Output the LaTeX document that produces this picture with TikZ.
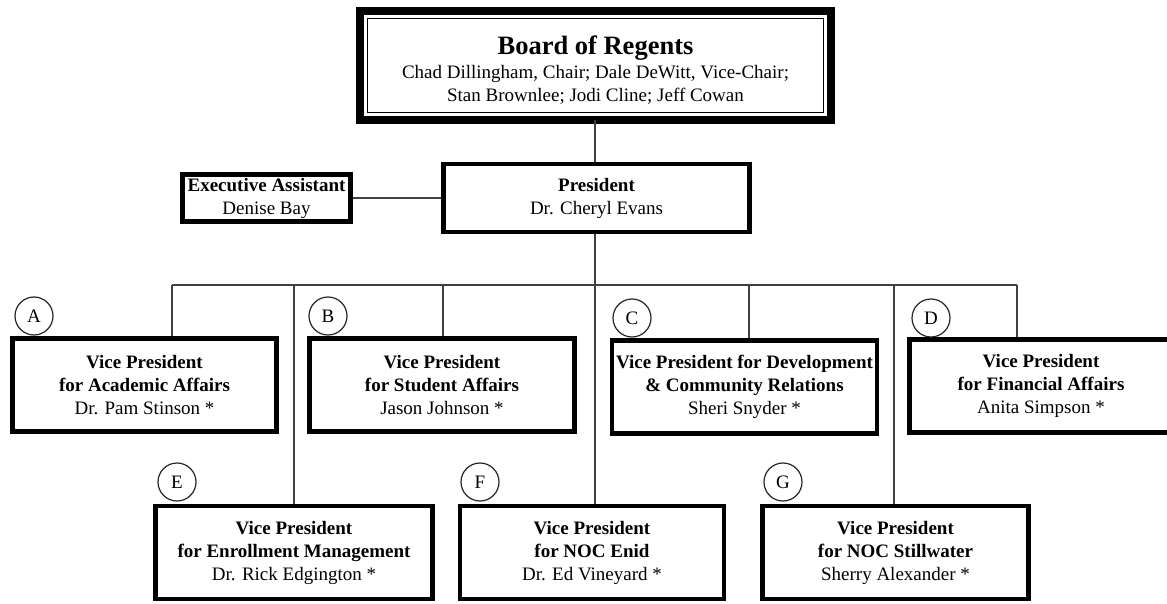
\documentclass[tikz,border=0pt]{standalone}
\usepackage{fontspec}
\setmainfont{Liberation Serif}
\usetikzlibrary{calc}
\tikzset{
  conn/.style={draw=black!75, line width=1.3pt},
  orgbox/.style={draw, line width=4.6pt, align=center, inner sep=0pt,
    font=\fontsize{19}{23}\selectfont},
  tag/.style={circle, draw=black!85, line width=1.2pt, minimum size=38pt, inner sep=0pt,
    font=\fontsize{19}{23}\selectfont},
}
\begin{document}
\begin{tikzpicture}[x=1pt,y=-1pt]
\useasboundingbox (0,0) rectangle (1167,604);
\fill[white] (0,0) rectangle (1167,604);

% Board
\node[draw, line width=8pt, inner sep=0pt, outer sep=0pt,
  minimum width=471pt, minimum height=109pt] (board) at (595.5,65.5) {};
\draw[line width=1.8pt] ($(board.south west)+(7.5,-7.5)$) rectangle ($(board.north east)+(-7.5,7.5)$);
\node[align=center, inner sep=0pt, font=\fontsize{19}{23}\selectfont] (boardtxt) at (595.5,70.5)
  {{\fontsize{26.5}{27}\selectfont\bfseries Board of Regents}\\[1pt]
  Chad Dillingham, Chair; Dale DeWitt, Vice-Chair;\\
  Stan Brownlee; Jodi Cline; Jeff Cowan};

% President and assistant
\node[orgbox, minimum width=306pt, minimum height=68pt] (pres) at (596.5,198)
  {\textbf{President}\\Dr. Cheryl Evans};
\node[orgbox, minimum width=168pt, minimum height=47pt] (exec) at (266.5,198)
  {\textbf{Executive Assistant}\\Denise Bay};

% VP boxes
\node[orgbox, minimum width=264pt, minimum height=93pt] (A) at (144.5,385)
  {\textbf{Vice President}\\\textbf{for Academic Affairs}\\Dr. Pam Stinson *};
\node[orgbox, minimum width=265pt, minimum height=93pt] (B) at (442,385)
  {\textbf{Vice President}\\\textbf{for Student Affairs}\\Jason Johnson *};
\node[orgbox, minimum width=265pt, minimum height=93pt] (C) at (744.5,387)
  {\textbf{Vice President for Development}\\\textbf{\& Community Relations}\\Sheri Snyder *};
\node[orgbox, minimum width=263pt, minimum height=93pt] (D) at (1041,386)
  {\textbf{Vice President}\\\textbf{for Financial Affairs}\\Anita Simpson *};
\node[orgbox, minimum width=277pt, minimum height=93pt] (E) at (294,552.5)
  {\textbf{Vice President}\\\textbf{for Enrollment Management}\\Dr. Rick Edgington *};
\node[orgbox, minimum width=264pt, minimum height=93pt] (F) at (592,552.5)
  {\textbf{Vice President}\\\textbf{for NOC Enid}\\Dr. Ed Vineyard *};
\node[orgbox, minimum width=266pt, minimum height=93pt] (G) at (895.5,552.5)
  {\textbf{Vice President}\\\textbf{for NOC Stillwater}\\Sherry Alexander *};

% Letter tags
\node[tag] (tA) at (34,316) {A};
\node[tag] (tB) at (328,316) {B};
\node[tag] (tC) at (632,318) {C};
\node[tag] (tD) at (931,318) {D};
\node[tag] (tE) at (177,482) {E};
\node[tag] (tF) at (480,482) {F};
\node[tag] (tG) at (783,482) {G};

% Bus coordinates
\coordinate (bP) at (595,285);
\coordinate (bA) at (172,285);
\coordinate (bE) at (294,285);
\coordinate (bB) at (443,285);
\coordinate (bC) at (749,285);
\coordinate (bG) at (894,285);
\coordinate (bD) at (1017,285);

% Connectors
\draw[conn] (bP |- board.south) -- (bP |- pres.north);
\draw[conn] (exec.east) -- (pres.west);
\draw[conn] (bP |- pres.south) -- (bP);
\draw[conn] (bA) -- (bD);
\draw[conn] (bA) -- (bA |- A.north);
\draw[conn] (bB) -- (bB |- B.north);
\draw[conn] (bC) -- (bC |- C.north);
\draw[conn] (bD) -- (bD |- D.north);
\draw[conn] (bE) -- (bE |- E.north);
\draw[conn] (bP) -- (bP |- F.north);
\draw[conn] (bG) -- (bG |- G.north);
\end{tikzpicture}
\end{document}
